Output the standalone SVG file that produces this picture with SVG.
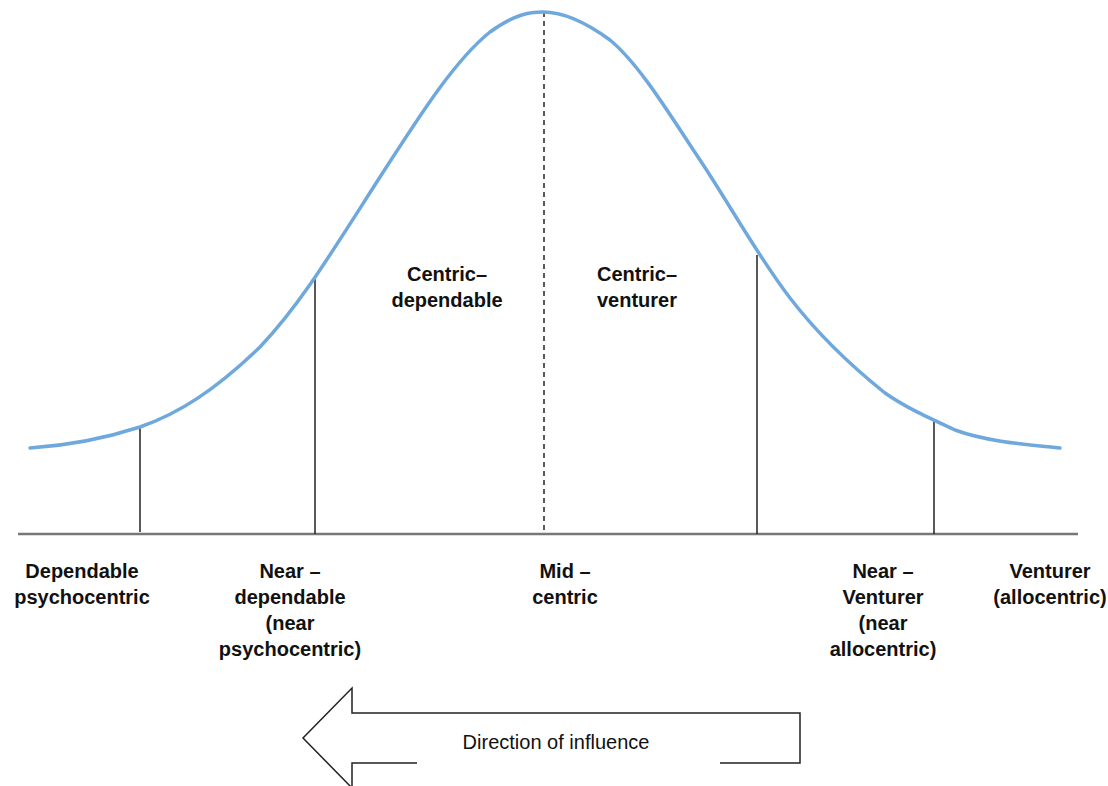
<svg xmlns="http://www.w3.org/2000/svg" width="1108" height="786" viewBox="0 0 1108 786">
<style>
.lbl{font-family:"Liberation Sans",Arial,sans-serif;font-weight:bold;font-size:20px;fill:#111;text-anchor:middle}
.reg{font-family:"Liberation Sans",Arial,sans-serif;font-size:20px;fill:#111;text-anchor:middle}
.div{stroke:#222;stroke-width:1.5;fill:none}
</style>
<rect width="1108" height="786" fill="#fff"/>
<g id="connectors">
<line x1="18" y1="534" x2="1078" y2="534" stroke="#777" stroke-width="2.5"/>
<line class="div" x1="140" y1="427" x2="140" y2="532"/>
<line class="div" x1="315" y1="277" x2="315" y2="534"/>
<line class="div" x1="757" y1="255" x2="757" y2="534"/>
<line class="div" x1="934" y1="420" x2="934" y2="534"/>
<line x1="544" y1="12" x2="544" y2="534" stroke="#222" stroke-width="1.5" stroke-dasharray="5,4"/>
</g>
<g id="curve">
<path d="M30,448 C60,446 100,440 140,427 C180,413 215,390 260,347 C300,305 330,255 380,177 C420,115 455,60 490,32 C515,14 530,12 543,12 C560,12 580,18 610,40 C640,65 670,115 700,160 C730,205 757,255 790,298 C820,337 850,365 885,393 C905,407 925,416 955,430 C985,441 1020,444 1060,448" fill="none" stroke="#6fa8dc" stroke-width="3.5" stroke-linecap="round"/>
</g>
<g id="centric-dependable"><text class="lbl" x="447" y="281">Centric–</text><text class="lbl" x="447" y="307">dependable</text></g>
<g id="centric-venturer"><text class="lbl" x="637" y="281">Centric–</text><text class="lbl" x="637" y="307">venturer</text></g>
<g id="dependable"><text class="lbl" x="82" y="578">Dependable</text><text class="lbl" x="82" y="604">psychocentric</text></g>
<g id="near-dependable"><text class="lbl" x="290" y="578">Near –</text><text class="lbl" x="290" y="604">dependable</text><text class="lbl" x="290" y="630">(near</text><text class="lbl" x="290" y="656">psychocentric)</text></g>
<g id="mid-centric"><text class="lbl" x="565" y="578">Mid –</text><text class="lbl" x="565" y="604">centric</text></g>
<g id="near-venturer"><text class="lbl" x="883" y="578">Near –</text><text class="lbl" x="883" y="604">Venturer</text><text class="lbl" x="883" y="630">(near</text><text class="lbl" x="883" y="656">allocentric)</text></g>
<g id="venturer"><text class="lbl" x="1050" y="578">Venturer</text><text class="lbl" x="1050" y="604">(allocentric)</text></g>
<g id="direction-arrow">
<path d="M417,763 L352,763 L352,788 L303,738 L352,688 L352,713 L800,713 L800,763 L720,763" fill="none" stroke="#222" stroke-width="1.5"/>
<text class="reg" x="556" y="749">Direction of influence</text>
</g>
</svg>
